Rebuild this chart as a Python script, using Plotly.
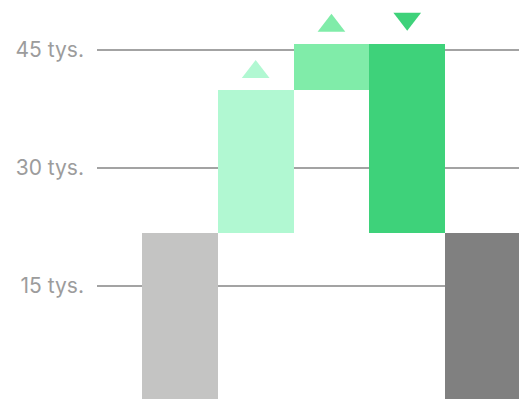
import plotly.graph_objects as go

# ---- data ----
categories = ["Start", "Wzrost 1", "Wzrost 2", "Spadek", "Koniec"]
bar_base = [0, 21800, 39900, 21800, 0]
bar_value = [21800, 18100, 5900, 24000, 21800]
direction = [None, "up", "up", "down", None]
tick_vals = [15000, 30000, 45000]
tick_text = ["15 tys.", "30 tys.", "45 tys."]

colors = ["#c4c4c3", "#b1f8d2", "#80eca9", "#3ed27a", "#808080"]

W, H = 519, 399
y_range = [636, 51356]
px_per_unit = H / (y_range[1] - y_range[0])

fig = go.Figure()
xs = list(range(len(categories)))
fig.add_trace(go.Bar(
    x=xs, y=bar_value, base=bar_base, width=1,
    marker=dict(color=colors, line=dict(width=0)),
    hoverinfo="skip", showlegend=False,
))

# direction triangles above the bar tops
mx, my, msym, mcol = [], [], [], []
for i, d in enumerate(direction):
    if d is None:
        continue
    top = bar_base[i] + bar_value[i]
    off_px = 18 if d == "up" else 25
    mx.append(xs[i])
    my.append(top + off_px / px_per_unit)
    msym.append("triangle-up" if d == "up" else "triangle-down")
    mcol.append(colors[i])
fig.add_trace(go.Scatter(
    x=mx, y=my, mode="markers",
    marker=dict(symbol=msym, color=mcol, size=24, line=dict(width=0)),
    hoverinfo="skip", showlegend=False, cliponaxis=False,
))

fig.update_layout(
    width=W, height=H,
    margin=dict(l=97, r=0, t=0, b=0),
    paper_bgcolor="white", plot_bgcolor="white",
    bargap=0,
    font=dict(family="Inter", color="#9c9c9c", size=21),
    xaxis=dict(visible=False, range=[-1.094, 4.475]),
    yaxis=dict(
        range=y_range, tickvals=tick_vals, ticktext=tick_text,
        showgrid=True, gridcolor="#a3a3a3", gridwidth=1.5,
        zeroline=False, showline=False, ticks="",
        ticklabelstandoff=12,
        tickfont=dict(family="Inter", size=21, color="#9c9c9c"),
    ),
)

fig.write_html("out.html")
